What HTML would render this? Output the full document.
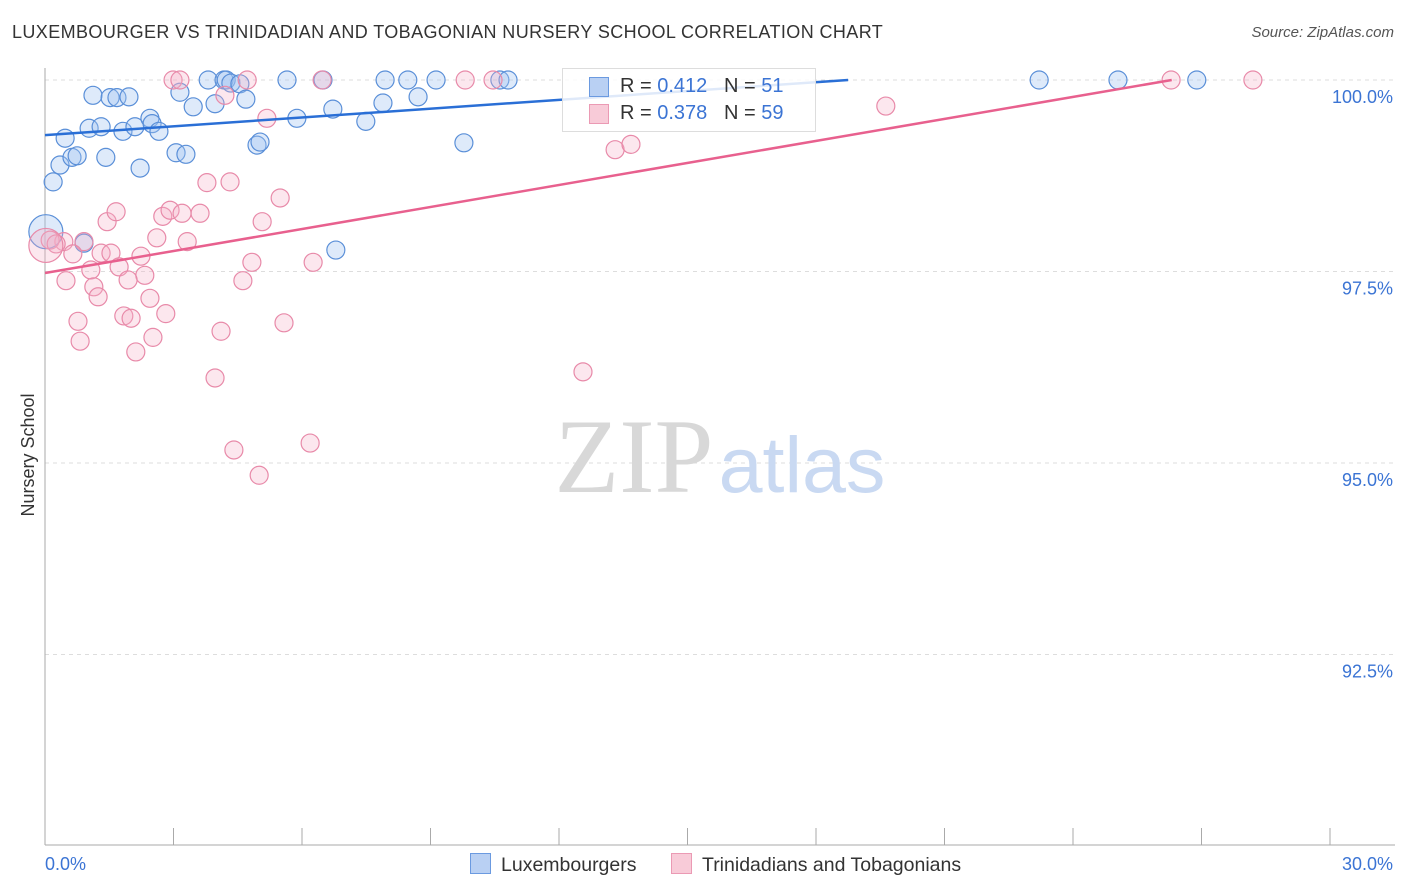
<!DOCTYPE html>
<html><head><meta charset="utf-8"><style>
body{margin:0;background:#fff;font-family:"Liberation Sans",sans-serif;}
#c{position:relative;width:1406px;height:892px;overflow:hidden;}
.t{position:absolute;white-space:nowrap;}
</style></head><body>
<div id="c">
<div class="t" style="left:12px;top:22px;font-size:18px;color:#333;letter-spacing:0.4px">LUXEMBOURGER VS TRINIDADIAN AND TOBAGONIAN NURSERY SCHOOL CORRELATION CHART</div>
<div class="t" style="right:12px;top:24px;font-size:15px;color:#555;font-style:italic">Source: ZipAtlas.com</div>
<svg id="s" width="1406" height="892" style="position:absolute;left:0;top:0"></svg>
</div>
<script>
const xTicks=[0,3,6,9,12,15,18,21,24,27,30];
const yTicks=[100,97.5,95,92.5];
const yTickLabels=["100.0%","97.5%","95.0%","92.5%"];
const blueX=[1.12,1.52,1.68,1.96,0.47,0.19,0.35,0.63,0.75,1.42,1.03,1.31,1.82,2.10,2.45,2.50,2.66,2.22,3.06,3.29,3.15,3.46,3.81,3.97,4.18,4.23,4.34,4.55,4.69,4.95,5.02,5.65,5.88,6.49,6.72,7.49,7.89,7.94,8.47,8.71,9.13,9.78,10.62,10.81,6.79,0.91,0.02,23.21,25.05,26.89];
const blueY=[99.80,99.77,99.77,99.78,99.24,98.67,98.89,98.99,99.01,98.99,99.37,99.39,99.33,99.39,99.50,99.43,99.33,98.85,99.05,99.03,99.84,99.65,100,99.69,100,100,99.96,99.95,99.75,99.15,99.19,100,99.50,100,99.62,99.46,99.70,100,100,99.78,100,99.18,100,100,97.78,97.87,98.02,100,100,100];
const pinkX=[2.99,3.15,4.72,6.47,9.81,10.46,28.20,26.29,4.20,5.18,19.63,13.31,13.68,3.78,4.32,5.49,5.07,1.45,1.66,2.75,2.92,3.20,3.62,2.61,3.32,0.91,0.44,0.12,0.26,0.65,0.49,1.07,1.31,1.54,1.73,2.24,2.33,1.94,1.14,1.24,2.45,4.62,4.83,6.26,0.77,1.84,2.01,2.82,0.82,2.12,2.52,4.11,5.58,3.97,12.56,4.41,6.19,5.00,0.02];
const pinkY=[100,100,100,100,100,100,100,100,99.80,99.50,99.66,99.09,99.16,98.66,98.67,98.46,98.15,98.15,98.28,98.22,98.30,98.26,98.26,97.94,97.89,97.89,97.89,97.91,97.86,97.73,97.38,97.52,97.74,97.74,97.56,97.70,97.45,97.39,97.30,97.17,97.15,97.38,97.62,97.62,96.85,96.92,96.89,96.95,96.59,96.45,96.64,96.72,96.83,96.11,96.19,95.17,95.26,94.84,97.84];
const blueTrend=[99.28,0.0384];
const pinkTrend=[97.48,0.0958];
const X=v=>45+v/30*1285, Y=v=>80+(100-v)/2.5*191.5;
const s=document.getElementById('s');const NS='http://www.w3.org/2000/svg';
function mk(t,a,p){const e=document.createElementNS(NS,t);for(const k in a)e.setAttribute(k,a[k]);(p||s).appendChild(e);return e;}
yTicks.forEach((v,i)=>{
 const g=mk('line',{x1:45,x2:1395,y1:Y(v),y2:Y(v),stroke:'#ddd','stroke-dasharray':'4,4'});
 
 
 const t=mk('text',{x:1393,y:Y(v)+23,'text-anchor':'end','font-size':18,fill:'#3b74d4'});t.textContent=yTickLabels[i];
 
 
});
let ax=mk('line',{x1:45,x2:45,y1:68,y2:845,stroke:'#aaa'});


ax=mk('line',{x1:45,x2:1395,y1:845,y2:845,stroke:'#aaa'});


xTicks.forEach(v=>{const l=mk('line',{x1:X(v),x2:X(v),y1:828,y2:845,stroke:'#aaa'});
 
 });
[[0,'start','0.0%'],[30,'end','30.0%']].forEach(d=>{const t=mk('text',{x:X(d[0])+(d[1]=='end'?63:0),y:870,'text-anchor':d[1],'font-size':18,fill:'#3b74d4'});t.textContent=d[2];
 
 });
const yt=mk('text',{x:0,y:0,transform:'translate(34,455) rotate(-90)','text-anchor':'middle','font-size':18,fill:'#333'});yt.textContent='Nursery School';


const w1=mk('text',{x:634,y:492,'text-anchor':'middle','font-size':106,fill:'#d8d8d8','font-family':'Liberation Serif, serif'});w1.textContent='ZIP';


const w2=mk('text',{x:802,y:492,'text-anchor':'middle','font-size':79,fill:'#c9d9f2'});w2.textContent='atlas';


function pts(xs,ys,fill,stroke,name){xs.forEach((x,i)=>{const big=(x<0.05);const c=mk('circle',{cx:X(x),cy:Y(ys[i]),r:big?17:9,fill:fill,stroke:stroke,'stroke-width':1.2});
 
 });}
pts(blueX,blueY,'rgba(160,195,240,0.35)','#5a8fd8','luxembourger-point');
pts(pinkX,pinkY,'rgba(246,175,198,0.3)','#e88aa9','trinidadian-point');
function trend(tr,col,name){const xe=Math.min(30,(100-tr[0])/tr[1]);const l=mk('line',{x1:X(0),y1:Y(tr[0]),x2:X(xe),y2:Y(tr[0]+tr[1]*xe),stroke:col,'stroke-width':2.5});
 
 }
trend(blueTrend,'#2a6fd6','luxembourger-trend-line');
trend(pinkTrend,'#e8608e','trinidadian-trend-line');
</script>
<div class="t" style="left:562px;top:68px;width:252px;height:62px;background:rgba(255,255,255,0.85);border:1px solid #ddd;font-size:20px;color:#333">
 <div style="position:absolute;left:26px;top:8px;width:18px;height:18px;background:#b9d0f3;border:1px solid #6b9ae0"></div>
 <div class="t" style="left:57px;top:6px">R = <span style="color:#3b74d4">0.412</span>&nbsp;&nbsp;&nbsp;N = <span style="color:#3b74d4">51</span></div>
 <div style="position:absolute;left:26px;top:35px;width:18px;height:18px;background:#f8cbd8;border:1px solid #eb9ab4"></div>
 <div class="t" style="left:57px;top:33px">R = <span style="color:#3b74d4">0.378</span>&nbsp;&nbsp;&nbsp;N = <span style="color:#3b74d4">59</span></div>
</div>
<div class="t" style="left:470px;top:853px;font-size:19.5px;color:#333"><span style="display:inline-block;width:19px;height:19px;background:#b9d0f3;border:1px solid #6b9ae0;vertical-align:-3px;margin-right:10px"></span>Luxembourgers</div>
<div class="t" style="left:671px;top:853px;font-size:19.5px;color:#333"><span style="display:inline-block;width:19px;height:19px;background:#f8cbd8;border:1px solid #eb9ab4;vertical-align:-3px;margin-right:10px"></span>Trinidadians and Tobagonians</div>
</body></html>
